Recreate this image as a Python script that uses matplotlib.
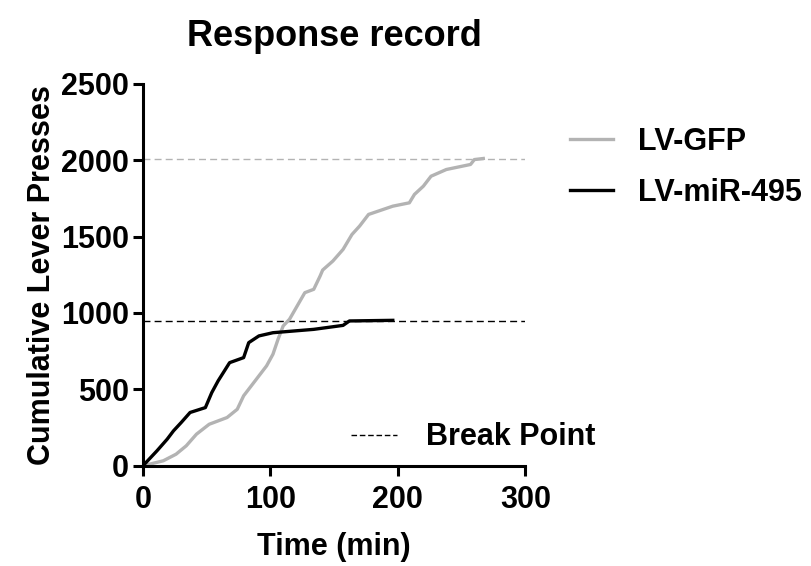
import matplotlib
matplotlib.use('Agg')
import matplotlib.pyplot as plt
from matplotlib.lines import Line2D

# cumulative lever presses over the session (min, presses)
gfp_time = [0, 16, 26, 34, 42, 52, 66, 74, 79, 87, 97, 102, 106, 110, 115, 121, 127, 134,
            139, 141, 149, 157, 164, 170, 177, 196, 209, 213, 220, 226, 238, 257, 260, 267]
gfp_press = [0, 33, 76, 131, 207, 272, 316, 370, 458, 545, 654, 730, 828, 915, 959, 1046,
             1133, 1155, 1242, 1281, 1340, 1416, 1514, 1569, 1645, 1699, 1721, 1776, 1830,
             1895, 1939, 1972, 2004, 2011]

mir_time = [0, 11, 19, 24, 30, 37, 49, 54, 59, 68, 79, 83, 91, 102, 134, 157, 162, 196]
mir_press = [0, 98, 174, 229, 283, 349, 381, 479, 556, 675, 708, 806, 850, 871, 893, 919,
             948, 952]

gfp_break = 2010
mir_break = 950

plt.rcParams['font.family'] = ['Liberation Sans', 'DejaVu Sans']
plt.rcParams['font.weight'] = 'bold'

fig = plt.figure(figsize=(8.12, 5.66), dpi=100)
ax = fig.add_axes([0.176, 0.177, 0.471, 0.675])

gray = '#b3b3b3'
ax.axhline(gfp_break, color=gray, lw=1.0, ls=(0, (5, 3)), zorder=1)
ax.axhline(mir_break, color='black', lw=1.0, ls=(0, (5, 3)), zorder=1)
l1, = ax.plot(gfp_time, gfp_press, color=gray, lw=2.4, label='LV-GFP', zorder=2)
l2, = ax.plot(mir_time, mir_press, color='black', lw=2.4, label='LV-miR-495', zorder=3)

ax.set_xlim(0, 300)
ax.set_ylim(0, 2500)
ax.set_xticks([0, 100, 200, 300])
ax.set_yticks([0, 500, 1000, 1500, 2000, 2500])
for s in ['top', 'right']:
    ax.spines[s].set_visible(False)
for s in ['left', 'bottom']:
    ax.spines[s].set_linewidth(2.2)
ax.tick_params(width=2.2, length=7, labelsize=22)
ax.tick_params(axis='x', pad=7)
ax.tick_params(axis='y', pad=3)
for lab in ax.get_xticklabels() + ax.get_yticklabels():
    lab.set_fontweight('bold')

ax.set_title('Response record', fontsize=26, fontweight='bold', pad=27)
ax.set_xlabel('Time (min)', fontsize=22, fontweight='bold', labelpad=12)
ax.set_ylabel('Cumulative Lever Presses', fontsize=22, fontweight='bold', labelpad=3)

leg = ax.legend(handles=[l1, l2], loc='upper left', bbox_to_anchor=(1.118, 0.888),
                frameon=False, fontsize=22, handlelength=1.4, handletextpad=0.8,
                labelspacing=0.7, borderaxespad=0, borderpad=0)
for t in leg.get_texts():
    t.set_fontweight('bold')
ax.add_artist(leg)

bp = Line2D([], [], color='black', lw=1.0, ls=(0, (4, 2)))
leg2 = ax.legend(handles=[bp], labels=['Break Point'], loc='lower left',
                 bbox_to_anchor=(0.545, 0.035), frameon=False, fontsize=22,
                 handlelength=1.5, handletextpad=0.95, borderaxespad=0, borderpad=0)
for t in leg2.get_texts():
    t.set_fontweight('bold')

fig.savefig('out.png', dpi=100)
